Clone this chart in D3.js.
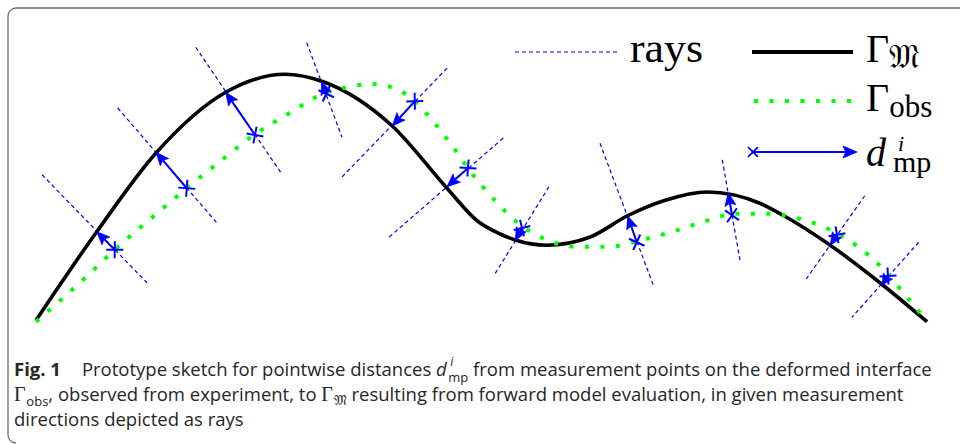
<!DOCTYPE html>
<html>
<head>
<meta charset="utf-8">
<script src="https://cdn.jsdelivr.net/npm/d3@7"></script>
<style>
  body { margin: 0; background: #fff; }
  svg { display: block; }
  text { white-space: pre; }
</style>
</head>
<body>
<svg id="chart" width="960" height="444"></svg>
<script>
// ---------- data (sketch units) ----------
// Model interface Γ_𝔐
const modelX = [0.08, 0.89, 1.68, 2.61, 3.40, 3.91, 4.83, 5.56, 5.97, 6.27, 6.47, 6.89, 7.47, 7.96,
                8.47, 9.03, 9.73, 10.04, 10.67, 11.37, 11.96];
const modelY = [0.13, 1.31, 2.36, 3.17, 3.41, 3.31, 2.72, 1.89, 1.45, 1.28, 1.20, 1.13, 1.24, 1.52,
                1.73, 1.84, 1.69, 1.53, 1.13, 0.60, 0.11];

// Observed interface Γ_obs
const obsX = [0.08, 0.73, 1.13, 1.71, 2.09, 2.56, 3.00, 3.44, 3.93, 4.24, 4.56, 4.89, 5.13, 5.37, 5.64, 5.89,
              6.17, 6.49, 6.87, 7.29, 7.71, 8.12, 8.56, 8.97, 9.40, 9.83, 10.27, 10.68, 11.04, 11.36, 11.65, 11.96];
const obsY = [0.11, 0.69, 1.07, 1.57, 1.89, 2.27, 2.61, 2.88, 3.16, 3.24, 3.28, 3.21, 3.05, 2.79, 2.44, 2.09,
              1.76, 1.44, 1.21, 1.11, 1.11, 1.19, 1.31, 1.44, 1.55, 1.55, 1.48, 1.33, 1.11, 0.83, 0.49, 0.12];

// Measurement points on Γ_obs and where their rays meet Γ_𝔐
const measX = [1.13, 2.09, 3.00, 3.95, 5.13, 5.84, 6.56, 8.09, 9.36, 10.76, 11.44];
const measY = [1.07, 1.89, 2.60, 3.15, 3.05, 2.16, 1.36, 1.17, 1.53, 1.27, 0.72];
const hitX  = [0.89, 1.68, 2.61, 3.89, 4.83, 5.56, 6.47, 7.97, 9.31, 10.67, 11.36];
const hitY  = [1.31, 2.37, 3.17, 3.31, 2.72, 1.91, 1.19, 1.52, 1.83, 1.13, 0.60];

// Measurement directions (ray segments)
const rayX0 = [0.16, 1.17, 2.21, 3.69, 5.56, 6.31, 6.92, 7.60, 9.23, 11.13, 11.85];
const rayY0 = [2.07, 2.96, 3.77, 3.83, 3.49, 2.56, 1.91, 2.49, 2.27, 1.79, 1.17];
const rayX1 = [1.56, 2.49, 3.35, 4.16, 4.16, 4.79, 6.20, 8.31, 9.47, 10.35, 10.96];
const rayY1 = [0.63, 1.43, 2.09, 2.57, 2.04, 1.24, 0.75, 0.60, 0.91, 0.68, 0.17];

// ---------- layout ----------
const svg = d3.select("#chart");
const x = d3.scaleLinear().domain([0, 12]).range([30, 930]);
const y = d3.scaleLinear().domain([0, 4]).range([330, 30]);

const BLUE = "#0000ff", GREEN = "#00ff00";

// figure frame
svg.append("path")
  .attr("d", "M960,8 H16 A8,8 0 0 0 8,16 V435 A8,8 0 0 0 16,443")
  .attr("fill", "none").attr("stroke", "#6e6e6e").attr("stroke-width", 1.3);

const plot = svg.append("g");

// rays
plot.selectAll("line.ray").data(d3.range(rayX0.length)).join("line")
  .attr("class", "ray")
  .attr("x1", i => x(rayX0[i])).attr("y1", i => y(rayY0[i]))
  .attr("x2", i => x(rayX1[i])).attr("y2", i => y(rayY1[i]))
  .attr("stroke", BLUE).attr("stroke-width", 1.2).attr("stroke-dasharray", "4,3");

const curve = d3.line().x(d => x(d[0])).y(d => y(d[1])).curve(d3.curveMonotoneX);

plot.append("path")
  .attr("d", curve(d3.zip(modelX, modelY)))
  .attr("fill", "none").attr("stroke", "#000").attr("stroke-width", 3.6);

plot.append("path")
  .attr("d", curve(d3.zip(obsX, obsY)))
  .attr("fill", "none").attr("stroke", GREEN).attr("stroke-width", 4)
  .attr("stroke-dasharray", "4,11.5");

// arrow from (x0,y0) to (x1,y1) in pixels, filled head at the end
function arrow(g, x0, y0, x1, y1, headLen, headW) {
  const dx = x1 - x0, dy = y1 - y0, L = Math.hypot(dx, dy);
  const ux = dx / L, uy = dy / L, nx = -uy, ny = ux;
  const h = Math.min(headLen, L);
  const bx = x1 - ux * h, by = y1 - uy * h;
  const mx = x1 - ux * h * 0.8, my = y1 - uy * h * 0.8;
  g.append("line").attr("x1", x0).attr("y1", y0).attr("x2", mx).attr("y2", my)
    .attr("stroke", BLUE).attr("stroke-width", 2);
  g.append("path")
    .attr("d", `M${x1},${y1} L${bx + nx * headW},${by + ny * headW} L${mx},${my} L${bx - nx * headW},${by - ny * headW} Z`)
    .attr("fill", BLUE).attr("stroke", BLUE).attr("stroke-width", 0.8).attr("stroke-linejoin", "miter");
}

// cross marker turned with the measurement direction
function cross(g, cx, cy, angle, arm, sw) {
  [Math.PI / 4, -Math.PI / 4].forEach(a => {
    const t = angle + a, ex = Math.cos(t) * arm, ey = Math.sin(t) * arm;
    g.append("line").attr("x1", cx - ex).attr("y1", cy - ey).attr("x2", cx + ex).attr("y2", cy + ey)
      .attr("stroke", BLUE).attr("stroke-width", sw);
  });
}

const marks = plot.append("g");
measX.forEach((_, i) => {
  const px0 = x(measX[i]), py0 = y(measY[i]), px1 = x(hitX[i]), py1 = y(hitY[i]);
  arrow(marks, px0, py0, px1, py1, 13, 5.5);
  const ang = Math.atan2(y(rayY1[i]) - y(rayY0[i]), x(rayX1[i]) - x(rayX0[i]));
  cross(marks, px0, py0, ang, 8.5, 2);
});

// ---------- legend ----------
const SERIF = "'Liberation Serif', 'DejaVu Serif', serif";
const leg = svg.append("g").attr("font-family", SERIF).attr("fill", "#000");

leg.append("line").attr("x1", 515).attr("x2", 617).attr("y1", 52).attr("y2", 52)
  .attr("stroke", BLUE).attr("stroke-width", 1.2).attr("stroke-dasharray", "4,3");
leg.append("text").attr("x", 630).attr("y", 62).attr("font-size", 42)
  .attr("textLength", 73).attr("lengthAdjust", "spacingAndGlyphs").text("rays");

leg.append("line").attr("x1", 752).attr("x2", 853).attr("y1", 52).attr("y2", 52)
  .attr("stroke", "#000").attr("stroke-width", 4);
const t1 = leg.append("text").attr("x", 866).attr("y", 62).attr("font-size", 40);
t1.append("tspan").text("Γ");
t1.append("tspan").attr("font-size", 33).attr("dy", 6).text("𝔐");

leg.append("line").attr("x1", 754).attr("x2", 853).attr("y1", 101).attr("y2", 101)
  .attr("stroke", GREEN).attr("stroke-width", 4).attr("stroke-dasharray", "4,11.5");
const t2 = leg.append("text").attr("x", 866).attr("y", 111).attr("font-size", 40);
t2.append("tspan").text("Γ");
t2.append("tspan").attr("font-size", 31).attr("dy", 6).text("obs");

arrow(leg, 753, 152, 857, 152, 14, 6);
cross(leg, 753, 152, 0, 7, 1.8);
const t3 = leg.append("text").attr("font-size", 40);
t3.append("tspan").attr("x", 866).attr("y", 166).attr("font-style", "italic").text("d");
t3.append("tspan").attr("x", 898).attr("y", 151).attr("font-size", 22).attr("font-style", "italic").text("i");
t3.append("tspan").attr("x", 893).attr("y", 172).attr("font-size", 30).text("mp");

// ---------- caption ----------
const SANS = "'Open Sans', 'Noto Sans', sans-serif";
const CAP = 18.5;
const capG = svg.append("g").attr("fill", "#262626");

// one text element per caption line; runs are placed one after another
function line(yy, runs) {
  const t = capG.append("text").attr("y", yy).attr("font-family", SANS).attr("font-size", CAP);
  let cx = 14;
  const put = (r, xx, yOff) => {
    const s = t.append("tspan").attr("x", xx).attr("y", yy + (yOff || 0))
      .attr("font-family", r.serif ? SERIF : SANS)
      .attr("font-size", r.size || CAP)
      .attr("font-weight", r.bold ? 700 : 400)
      .attr("font-style", r.italic ? "italic" : "normal")
      .text(r.t);
    return s.node().getComputedTextLength();
  };
  runs.forEach(r => {
    if (r.gap) { cx += r.gap; return; }
    if (r.stack) {
      const w1 = put(r.stack[0], cx + 3, -10);
      const w2 = put(r.stack[1], cx + 1, 6);
      cx += Math.max(w1 + 3, w2 + 1);
      return;
    }
    cx += put(r, cx, r.dy);
  });
}

line(376, [
  { t: "Fig. 1", bold: true }, { gap: 21 },
  { t: "Prototype sketch for pointwise distances " },
  { t: "d", italic: true }, { gap: 0.5 },
  { stack: [{ t: "i", italic: true, size: 12 }, { t: "mp", size: 13 }] },
  { t: " from measurement points on the deformed interface" }
]);
line(401, [
  { t: "Γ", serif: true, size: 20 }, { gap: 0.8 }, { t: "obs", size: 13, dy: 4.5 },
  { t: ", observed from experiment, to " },
  { t: "Γ", serif: true, size: 20 }, { gap: 0.8 }, { t: "𝔐", serif: true, size: 14, dy: 3.5 },
  { t: " resulting from forward model evaluation, in given measurement" }
]);
line(426, [{ t: "directions depicted as rays" }]);
</script>
</body>
</html>
